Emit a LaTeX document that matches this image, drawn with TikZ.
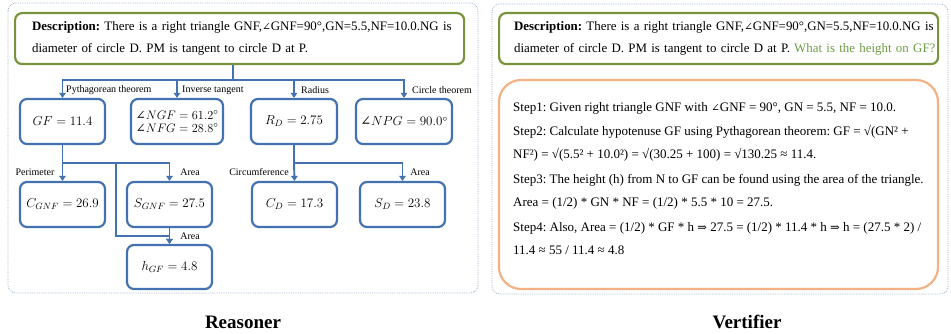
\RequirePackage{fix-cm}
\documentclass[tikz,border=0pt]{standalone}
\usepackage{fontspec}
\setmainfont{Liberation Serif}
\newfontfamily\symf{DejaVu Serif}
\usetikzlibrary{arrows.meta}
\frenchspacing

\definecolor{boxblue}{HTML}{4472B0}
\definecolor{descgreen}{HTML}{77933C}
\definecolor{askgreen}{HTML}{6E9B45}
\definecolor{panelline}{HTML}{9DB3CF}
\definecolor{stepbox}{HTML}{F4B183}

% angle and implication signs taken from DejaVu Serif
\newcommand{\ang}{{\symf\fontsize{10.5}{12}\selectfont ∠}}
\newcommand{\mang}{\mbox{\symf ∠}}
\newcommand{\impl}{{\symf\fontsize{11.5}{12}\selectfont ⇒}}

\tikzset{
  panel/.style={draw=panelline, densely dotted, line width=0.8pt, rounded corners=8pt},
  descbox/.style={draw=descgreen, line width=2.2pt, rounded corners=7pt, anchor=north west,
    minimum height=51pt, inner xsep=15pt, inner ysep=0pt, align=left,
    font=\fontsize{12.9}{16}\selectfont},
  valbox/.style={draw=boxblue, line width=2.2pt, rounded corners=7pt, fill=white,
    minimum height=45pt, inner sep=0pt, font=\fontsize{13}{15}\selectfont},
  link/.style={draw=boxblue, line width=1.9pt},
  arr/.style={link, -{Triangle[length=5pt,width=6.5pt]}},
  lab/.style={inner sep=0pt, font=\fontsize{10}{11}\selectfont},
  steptxt/.style={anchor=base west, inner sep=0pt, font=\fontsize{13}{15}\selectfont},
  caption/.style={inner sep=0pt, font=\fontsize{19}{22}\selectfont\bfseries}
}

\begin{document}
\begin{tikzpicture}[x=1pt,y=-1pt]
\useasboundingbox (0,0) rectangle (951,334);

% two dotted panels
\draw[panel] (8,3) rectangle (478,293);
\draw[panel] (492,4) rectangle (948,294);

% ---------- Reasoner ----------
\node[descbox, minimum width=449pt, text width=415pt, inner xsep=17pt] (desc) at (14,12)
  {\vspace*{6pt}\mbox{\textbf{Description:} There is a right triangle GNF,\ang GNF=90°,GN=5.5,NF=10.0.NG is}\\
   \mbox{diameter of circle D. PM is tangent to circle D at P.}};

\node[valbox, minimum width=85pt] (GF)  at (62.5,121.5) {$GF = 11.4$};
\node[valbox, minimum width=92pt, align=center, font=\fontsize{12.3}{14}\selectfont] (ANG) at (177,121.5)
  {$\mang NGF = 61.2^\circ$\\[-1pt]$\mang NFG = 28.8^\circ$};
\node[valbox, minimum width=86pt] (RD)  at (294,121.5) {$R_D = 2.75$};
\node[valbox, minimum width=96pt] (NPG) at (404,121.5) {$\mang NPG = 90.0^\circ$};

\node[valbox, minimum width=85pt] (CGNF) at (62.5,204.5) {$C_{GNF} = 26.9$};
\node[valbox, minimum width=85pt] (SGNF) at (169.5,204.5) {$S_{GNF} = 27.5$};
\node[valbox, minimum width=85pt] (CD)   at (294.5,204.5) {$C_D = 17.3$};
\node[valbox, minimum width=85pt] (SD)   at (402.5,204.5) {$S_D = 23.8$};
\node[valbox, minimum width=85pt, minimum height=44pt] (HGF) at (169.5,267) {$h_{GF} = 4.8$};

% first level
\coordinate (bus) at (233,80);
\draw[link] (desc.south -| bus) -- (bus);
\draw[arr] (bus) -| (GF.north);
\draw[arr] (bus) -| (ANG.north);
\draw[arr] (bus) -| (RD.north);
\draw[arr] (bus) -| (NPG.north);
\node[lab, anchor=west] (l1) at (66,90) {Pythagorean theorem};
\node[lab, anchor=west] (l2) at (182,90) {Inverse tangent};
\node[lab, anchor=west] (l3) at (301,90) {Radius};
\node[lab, anchor=west] (l4) at (412,90) {Circle theorem};

% second level, triangle branch
\coordinate (j1) at (62.5,163);
\coordinate (j2) at (116,163);
\coordinate (j3) at (116,236);
\draw[link] (GF.south) -- (j1);
\draw[arr] (j1) -- (CGNF.north);
\draw[arr] (j1) -| (SGNF.north);
\draw[arr] (j2) -- (j3) -| (HGF.north);
\draw[arr] (SGNF.south) -- (HGF.north);
\node[lab] (l5) at (35,172) {Perimeter};
\node[lab] (l6) at (190,172) {Area};
\node[lab] (l7) at (190,236) {Area};

% second level, circle branch
\coordinate (j4) at (294,163);
\draw[link] (RD.south) -- (j4);
\draw[arr] (j4) -- (CD.north);
\draw[arr] (j4) -| (SD.north);
\node[lab] (l8) at (259,172) {Circumference};
\node[lab] (l9) at (420,172) {Area};

\node[caption] (cap1) at (243,322) {Reasoner};

% ---------- Vertifier ----------
\node[descbox, minimum width=439pt, text width=409pt] (vdesc) at (498,12)
  {\vspace*{6pt}\mbox{\textbf{Description:} There is a right triangle GNF,\ang GNF=90°,GN=5.5,NF=10.0.NG is}\\
   \mbox{diameter of circle D. PM is tangent to circle D at P. \textcolor{askgreen}{What is the height on GF?}}};

\draw[draw=stepbox, line width=2.2pt, rounded corners=22pt] (499,80) rectangle (938,289);
\node[steptxt] (s1) at (513,112) {Step1: Given right triangle GNF with \ang GNF = 90°, GN = 5.5, NF = 10.0.};
\node[steptxt] (s2) at (513,136) {Step2: Calculate hypotenuse GF using Pythagorean theorem: GF = √(GN² +};
\node[steptxt] (s3) at (513,159) {NF²) = √(5.5² + 10.0²) = √(30.25 + 100) = √130.25 ≈ 11.4.};
\node[steptxt] (s4) at (513,183) {Step3: The height (h) from N to GF can be found using the area of the triangle.};
\node[steptxt] (s5) at (513,207) {Area = (1/2) * GN * NF = (1/2) * 5.5 * 10 = 27.5.};
\node[steptxt] (s6) at (513,231) {Step4: Also, Area = (1/2) * GF * h \impl\ 27.5 = (1/2) * 11.4 * h \impl\ h = (27.5 * 2) /};
\node[steptxt] (s7) at (513,254) {11.4 ≈ 55 / 11.4 ≈ 4.8};

\node[caption] (cap2) at (747,322) {Vertifier};
\end{tikzpicture}
\end{document}
